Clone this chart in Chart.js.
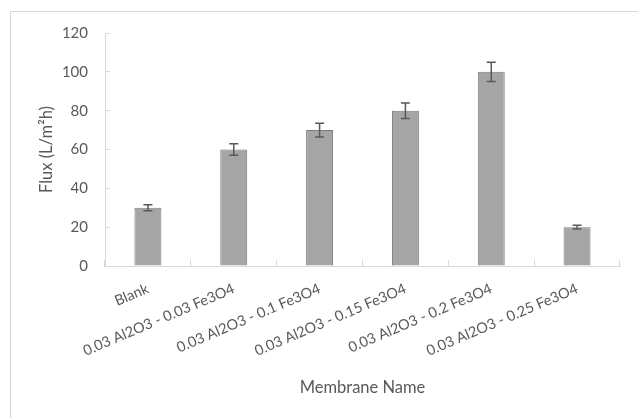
<!DOCTYPE html>
<html>
<head>
<meta charset="utf-8">
<title>Flux by membrane</title>
<script src="https://cdn.jsdelivr.net/npm/chart.js@4/dist/chart.umd.min.js"></script>
<style>
    html, body { margin: 0; padding: 0; background: #ffffff; }
    #wrap { position: relative; width: 638px; height: 418px; overflow: hidden; }
    #frame {
        position: absolute; left: 10px; top: 11px; right: -5px; bottom: -5px;
        border-top: 1px solid #d9d9d9; border-left: 1px solid #d9d9d9;
        pointer-events: none;
    }
</style>
</head>
<body>
<div id="wrap">
    <canvas id="myChart" width="638" height="418"></canvas>
    <div id="frame"></div>
</div>
<script>
var membranes = [
    'Blank',
    '0.03 Al2O3 - 0.03 Fe3O4',
    '0.03 Al2O3 - 0.1 Fe3O4',
    '0.03 Al2O3 - 0.15 Fe3O4',
    '0.03 Al2O3 - 0.2 Fe3O4',
    '0.03 Al2O3 - 0.25 Fe3O4'
];
var flux = [30, 60, 70, 80, 100, 20];
var fluxError = [1.5, 3, 3.5, 4, 5, 1];
var yTicks = [0, 20, 40, 60, 80, 100, 120];

(function (window) {

    var textColor = '#595959';
    var lineColor = '#d9d9d9';

    // draws the +/- error whiskers on top of each bar
    var errorBars = {
        id: 'errorBars',
        afterDatasetsDraw: function (chart) {
            var ctx = chart.ctx;
            var yScale = chart.scales.y;
            var meta = chart.getDatasetMeta(0);
            ctx.save();
            ctx.strokeStyle = '#595959';
            ctx.lineWidth = 1.5;
            meta.data.forEach(function (bar, i) {
                var v = flux[i];
                var e = fluxError[i];
                var top = yScale.getPixelForValue(v + e);
                var bottom = yScale.getPixelForValue(v - e);
                var cap = 4.5;
                ctx.beginPath();
                ctx.moveTo(bar.x, top);
                ctx.lineTo(bar.x, bottom);
                ctx.moveTo(bar.x - cap, top);
                ctx.lineTo(bar.x + cap, top);
                ctx.moveTo(bar.x - cap, bottom);
                ctx.lineTo(bar.x + cap, bottom);
                ctx.stroke();
            });
            ctx.restore();
        }
    };

    function initializeChart() {
        var ctx = document.getElementById('myChart');
        if (!ctx) {
            return;
        }

        Chart.defaults.font.family = 'Lato, "Open Sans", sans-serif';
        Chart.defaults.color = textColor;

        new Chart(ctx.getContext('2d'), {
            type: 'bar',
            data: {
                labels: membranes,
                datasets: [
                    {
                        label: 'Flux',
                        data: flux,
                        backgroundColor: '#a5a5a5',
                        borderColor: '#7b7b7b',
                        borderWidth: 1,
                        barPercentage: 0.314,
                        categoryPercentage: 1
                    }
                ]
            },
            options: {
                responsive: false,
                animation: false,
                layout: {
                    padding: { top: 33, right: 18, bottom: 0, left: 0 }
                },
                plugins: {
                    legend: { display: false },
                    tooltip: { enabled: false }
                },
                scales: {
                    x: {
                        grid: {
                            drawOnChartArea: false,
                            drawTicks: true,
                            tickLength: -6,
                            color: lineColor,
                            offset: true
                        },
                        border: { color: lineColor, width: 1 },
                        ticks: {
                            minRotation: 23,
                            maxRotation: 23,
                            autoSkip: false,
                            padding: 20,
                            font: { size: 14.5 },
                            color: textColor
                        },
                        title: {
                            display: true,
                            text: 'Membrane Name',
                            font: { size: 16.5 },
                            color: textColor,
                            padding: { top: 0, bottom: 20 }
                        },
                        afterFit: function (scale) {
                            scale.height = 152;
                        }
                    },
                    y: {
                        min: 0,
                        max: 120,
                        grid: {
                            drawOnChartArea: false,
                            drawTicks: true,
                            tickLength: -5,
                            color: lineColor
                        },
                        border: { color: lineColor, width: 1 },
                        afterBuildTicks: function (scale) {
                            scale.ticks = yTicks.map(function (v) { return { value: v }; });
                        },
                        ticks: {
                            padding: 22,
                            font: { size: 15 },
                            color: textColor
                        },
                        title: {
                            display: true,
                            text: 'Flux (L/m\u00b2h)',
                            font: { size: 16.5 },
                            color: textColor,
                            padding: { top: 37, bottom: 0 }
                        },
                        afterFit: function (scale) {
                            scale.width = 105;
                        }
                    }
                }
            },
            plugins: [errorBars]
        });
    }

    document.addEventListener('DOMContentLoaded', initializeChart);

})(window);
</script>
</body>
</html>
